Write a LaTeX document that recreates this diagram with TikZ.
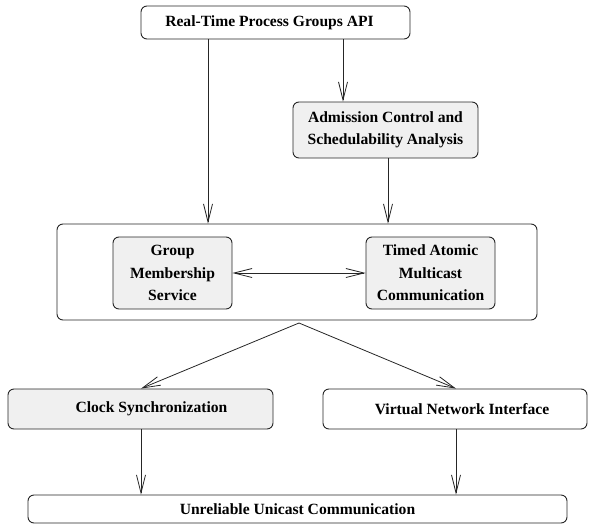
\documentclass[tikz,border=0pt]{standalone}
\usepackage{fontspec}
\setmainfont{Liberation Serif}
\usetikzlibrary{arrows.meta}
\begin{document}
\begin{tikzpicture}[x=1pt,y=-1pt,
  box/.style={draw=black!85, line width=0.9pt, rounded corners=6pt, inner sep=0pt, align=center,
    font=\fontsize{15.6}{22.5}\selectfont\bfseries},
  greybox/.style={box, fill=black!6},
  barb/.tip={Straight Barb[length=18pt,width=9pt]},
  arr/.style={-barb, line width=0.8pt, draw=black!85},
  darr/.style={barb-barb, line width=0.8pt, draw=black!85}]
\useasboundingbox (0,0) rectangle (589,525);

\node[box, minimum width=269pt, minimum height=33pt] (api) at (275.5,22.5) {Real-Time Process Groups API\hspace*{12pt}};
\node[greybox, minimum width=185pt, minimum height=56pt] (adm) at (385.5,130) {Admission Control and\\Schedulability Analysis};
\node[box, minimum width=480pt, minimum height=96pt] (cont) at (297,272) {};
\node[greybox, minimum width=119pt, minimum height=72pt] (gms) at (172.5,273) {Group\\Membership\\Service};
\node[greybox, minimum width=129pt, minimum height=72pt] (tam) at (430.5,273) {Timed Atomic\\Multicast\\Communication};
\node[greybox, minimum width=265pt, minimum height=40pt] (clk) at (140.5,409) {\hspace*{22pt}Clock Synchronization};
\node[box, minimum width=264pt, minimum height=40pt] (vni) at (455,409) {\hspace*{14pt}Virtual Network Interface};
\node[box, minimum width=539pt, minimum height=28pt] (uuc) at (297.5,509) {Unreliable Unicast Communication};

\coordinate (apex) at (299,323);

\draw[arr] (api.south -| 208,0) -- (cont.north -| 208,0);
\draw[arr] (api.south -| 343,0) -- (adm.north -| 343,0);
\draw[arr] (adm.south -| 388,0) -- (cont.north -| 388,0);
\draw[darr] (gms.east) -- (tam.west);
\draw[arr] (apex) -- (clk.north -| 141,0);
\draw[arr] (apex) -- (vni.north -| 456,0);
\draw[arr] (clk.south -| 141,0) -- (uuc.north -| 141,0);
\draw[arr] (vni.south -| 456,0) -- (uuc.north -| 456,0);
\end{tikzpicture}
\end{document}
